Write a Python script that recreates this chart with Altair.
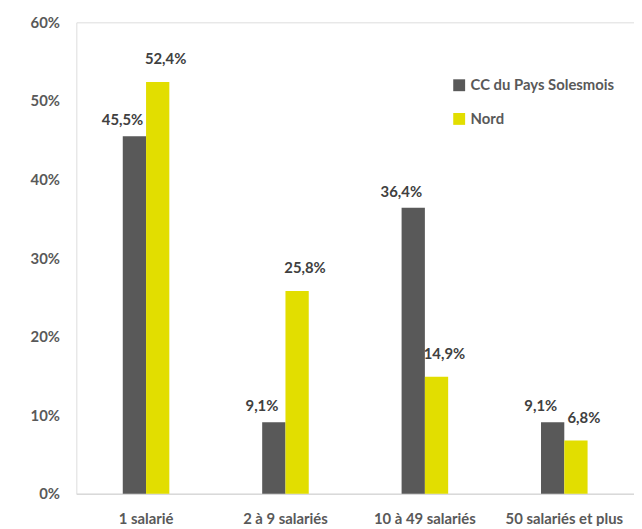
import altair as alt
import pandas as pd

categories = ["1 salarié", "2 à 9 salariés", "10 à 49 salariés", "50 salariés et plus"]
series = ["CC du Pays Solesmois", "Nord"]
cc_values = [45.5, 9.1, 36.4, 9.1]
nord_values = [52.4, 25.8, 14.9, 6.8]
y_ticks = [0, 10, 20, 30, 40, 50, 60]
colors = ["#595959", "#E2DE00"]

rows = []
for c, v in zip(categories, cc_values):
    rows.append({"cat": c, "serie": series[0], "v": v})
for c, v in zip(categories, nord_values):
    rows.append({"cat": c, "serie": series[1], "v": v})
df = pd.DataFrame(rows)

FONT = "Lato"

x_enc = alt.X("cat:N", sort=categories, title=None,
              scale=alt.Scale(paddingInner=0.666, paddingOuter=0.333),
              axis=alt.Axis(labelAngle=0, labelFont=FONT, labelFontSize=15, labelFontWeight="bold",
                            labelColor="#595959", ticks=False, domainColor="#D9D9D9", domainWidth=1.5,
                            labelPadding=18, grid=False))
xoff = alt.XOffset("serie:N", sort=series, scale=alt.Scale(paddingInner=0, paddingOuter=0))
y_enc = alt.Y("v:Q", title=None,
              scale=alt.Scale(domain=[0, 60], nice=False),
              axis=alt.Axis(values=y_ticks, labelExpr="datum.value + '%'", domain=False, ticks=False,
                            grid=False, labelFont=FONT, labelFontSize=15, labelFontWeight="bold",
                            labelColor="#595959", labelPadding=17))

base = alt.Chart(df)

bars = base.mark_bar().encode(
    x=x_enc, xOffset=xoff, y=y_enc,
    color=alt.Color("serie:N", sort=series,
                    scale=alt.Scale(domain=series, range=colors),
                    legend=alt.Legend(title=None, orient="none", legendX=379, legendY=56,
                                      symbolType="square", symbolSize=144, symbolStrokeWidth=0,
                                      labelFont=FONT, labelFontSize=15, labelFontWeight="bold",
                                      labelColor="#595959", rowPadding=18, labelOffset=4,
                                      padding=0)),
)

label_expr = "replace(format(datum.v, '.1f'), '.', ',') + '%'"

text_cc = base.transform_filter(alt.datum.serie == series[0]).transform_calculate(
    lab=label_expr
).mark_text(font=FONT, fontSize=15, fontWeight="bold", color="#404040",
            baseline="middle", dx=-12, dy=-16).encode(
    x=alt.X("cat:N", sort=categories), xOffset=alt.XOffset("serie:N", sort=series),
    y="v:Q", text="lab:N")

text_nord = base.transform_filter(alt.datum.serie == series[1]).transform_calculate(
    lab=label_expr
).mark_text(font=FONT, fontSize=15, fontWeight="bold", color="#404040",
            baseline="middle", dx=8, dy=-23).encode(
    x=alt.X("cat:N", sort=categories), xOffset=alt.XOffset("serie:N", sort=series),
    y="v:Q", text="lab:N")

chart = alt.layer(bars, text_cc, text_nord).properties(
    width=563, height=476,
    padding={"left": 69, "top": 12, "right": 0, "bottom": 30},
    autosize=alt.AutoSizeParams(type="none"),
).configure_view(stroke=None).configure(background="white")

chart.save("out.html", embed_options={"renderer": "svg", "actions": False})
